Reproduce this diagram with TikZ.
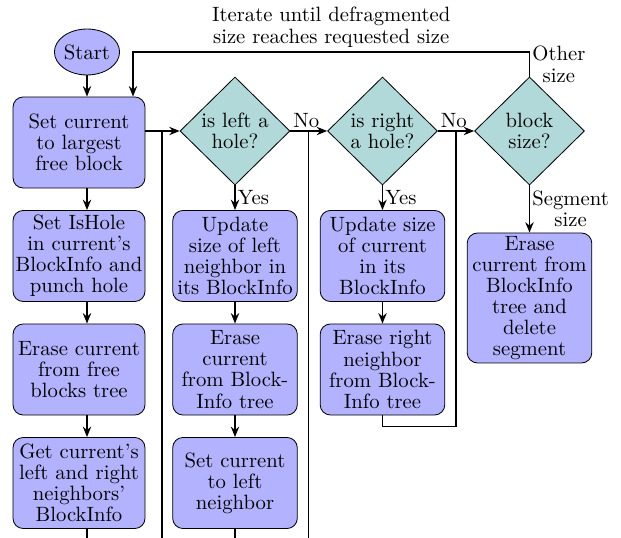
\documentclass[tikz,border=0pt]{standalone}
\usetikzlibrary{shapes.geometric,arrows.meta}
\begin{document}
\begin{tikzpicture}[x=0.4831pt,y=-0.4831pt,
  font=\fontsize{10}{10.2}\selectfont,
  >={Stealth[length=5pt,width=4pt]},
  proc/.style={draw=black, fill=blue!30, rounded corners=5pt, align=center, inner sep=0pt, minimum height=44pt},
  col1/.style={proc, minimum width=63.8pt},
  colx/.style={proc, minimum width=60.2pt},
  dec/.style={diamond, draw=black, fill=teal!30, align=center, inner sep=0pt, minimum width=53.1pt, minimum height=52.2pt},
  startst/.style={ellipse, draw=black, fill=blue!30, inner sep=0pt, minimum width=31pt, minimum height=22.2pt},
  conn/.style={thick},
  lab/.style={inner sep=1pt, align=center}]
\useasboundingbox (0,0) rectangle (621,538);
\node[startst] (start) at (87,52) {Start};
\node[col1] (b1) at (79,142.5) {Set current\\to largest\\free block};
\node[col1] (b2) at (79,256) {Set IsHole\\in current's\\BlockInfo and\\punch hole};
\node[col1] (b3) at (79,369.5) {Erase current\\from free\\blocks tree};
\node[col1] (b4) at (79,483) {Get current's\\left and right\\neighbors'\\BlockInfo};
\node[dec] (d1) at (235,131) {is left a\\hole?};
\node[dec] (d2) at (382.5,131) {is right\\a hole?};
\node[dec] (d3) at (529.5,131) {block\\size?};
\node[colx] (c2a) at (235,256) {Update\\size of left\\neighbor in\\its BlockInfo};
\node[colx] (c2b) at (235,369.5) {Erase\\current\\from Block-\\Info tree};
\node[colx] (c2c) at (235,483) {Set current\\to left\\neighbor};
\node[colx] (c3a) at (382.5,256) {Update size\\of current\\in its\\BlockInfo};
\node[colx] (c3b) at (382.5,369.5) {Erase right\\neighbor\\from Block-\\Info tree};
\node[colx, minimum height=62.8pt] (c4) at (529.5,298) {Erase\\current from\\BlockInfo\\tree and\\delete\\segment};
\coordinate (bot) at (0,538);
\coordinate (j1) at (162,131);
\coordinate (j2) at (308.5,131);
\coordinate (j3) at (456,131);
\coordinate (fb) at (133,52);
% column 1
\draw[conn,->] (start) -- (start |- b1.north);
\draw[conn,->] (start |- b1.south) -- (start |- b2.north);
\draw[conn,->] (start |- b2.south) -- (start |- b3.north);
\draw[conn,->] (start |- b3.south) -- (start |- b4.north);
\draw[conn] (start |- b4.south) -- (start |- bot);
\draw[conn,->] (d1.west -| b1.east) -- (d1.west);
\draw[conn] (j1 |- bot) -- (j1);
% column 2
\draw[conn,->] (d1.east) -- node[lab,pos=0,above right]{No} (d2.west);
\draw[conn,->] (d1.south) -- node[lab,right]{Yes} (c2a.north);
\draw[conn,->] (c2a) -- (c2b);
\draw[conn,->] (c2b) -- (c2c);
\draw[conn] (c2c.south) -- (c2c.south |- bot);
\draw[conn] (j2 |- bot) -- (j2);
% column 3
\draw[conn,->] (d2.east) -- node[lab,pos=0,above right]{No} (d3.west);
\draw[conn,->] (d2.south) -- node[lab,right]{Yes} (c3a.north);
\draw[conn,->] (c3a) -- (c3b);
\draw[conn] (c3b.south) -- ++(0,11) -| (j3);
% column 4
\draw[conn,->] (d3.south) -- node[lab,right]{Segment\\size} (c4.north);
\draw[conn,->] (d3.north) -- node[lab,right]{Other\\size} (d3.north |- fb)
  -- node[lab,above,inner sep=2pt]{Iterate until defragmented\\size reaches requested size} (fb)
  -- (fb |- b1.north);
\end{tikzpicture}
\end{document}
